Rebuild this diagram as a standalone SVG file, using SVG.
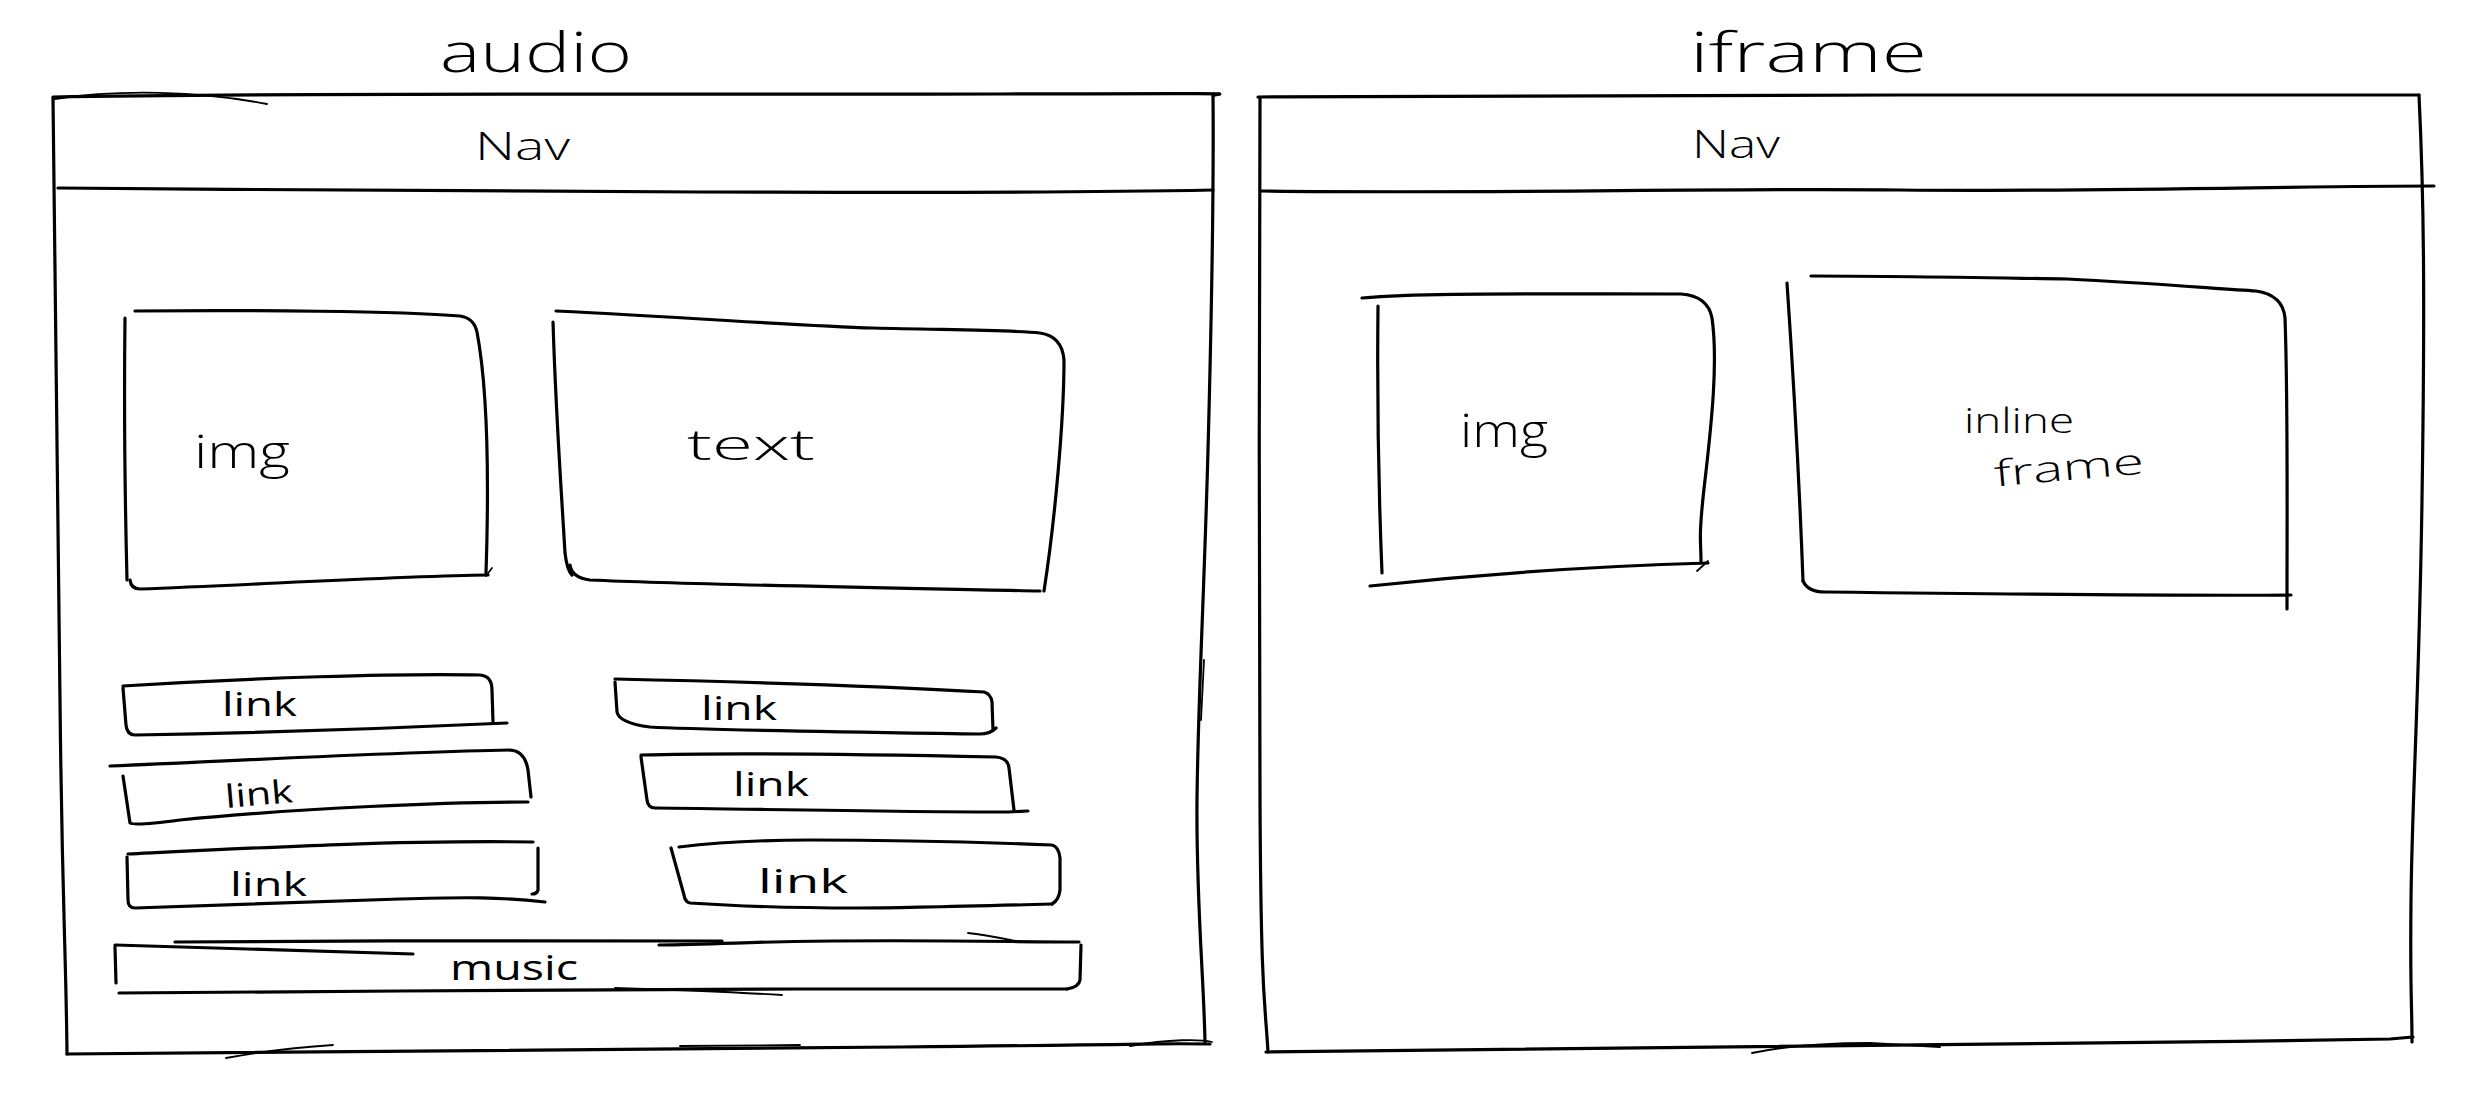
<svg xmlns="http://www.w3.org/2000/svg" width="2477" height="1112" viewBox="0 0 2477 1112">
<style>
  .s { fill: none; stroke: #000; stroke-width: 3.2; stroke-linecap: round; stroke-linejoin: round; }
  .t { fill: none; stroke: #000; stroke-width: 1.8; stroke-linecap: round; }
  .lbl { font-family: "Open Sans", "Liberation Sans", sans-serif; font-weight: 300; fill: #000; }
  .sm { font-weight: 400; }
</style>
<rect width="2477" height="1112" fill="#fff"/>

<g id="audio-frame">
  <text class="lbl" x="440" y="72" font-size="56" textLength="192" lengthAdjust="spacingAndGlyphs">audio</text>
  <path class="s" d="M53,97 C300,92 700,95 1000,94 S1200,94 1216,95"/>
  <path class="t" d="M55,99 C120,89 200,91 267,104"/>
  <path class="s" d="M53,98 C54,300 58,500 60,700 S66,950 67,1054"/>
  <path class="s" d="M1213,94 C1214,200 1212,300 1208,450 S1198,700 1197,800 S1204,980 1205,1043"/>
  <path class="t" d="M1204,660 L1201,720"/>
  <path class="s" d="M67,1054 C300,1052 600,1050 900,1047 S1150,1043 1210,1044"/>
  <path class="t" d="M226,1058 C260,1052 300,1047 333,1045"/>
  <path class="t" d="M680,1046 L800,1045"/>
  <path class="t" d="M1130,1046 C1170,1039 1200,1039 1212,1042"/>
  <path class="s" d="M58,188 C300,190 600,192 700,192 S1000,194 1213,190"/>
  <text class="lbl" x="475" y="160" font-size="39" textLength="95" lengthAdjust="spacingAndGlyphs">Nav</text>
</g>

<g id="audio-img">
  <path class="s" d="M135,311 C250,310 400,311 460,316 Q474,318 477,332 C486,380 490,450 486,573"/>
  <path class="t" d="M492,568 L486,576"/>
  <path class="s" d="M488,575 C400,576 250,585 140,589 Q131,589 130,580"/>
  <path class="s" d="M125,318 C124,400 125,500 127,580"/>
  <text class="lbl" x="194" y="468" font-size="46" textLength="96" lengthAdjust="spacingAndGlyphs">img</text>
</g>

<g id="audio-text">
  <path class="s" d="M556,311 C700,318 800,326 873,328 C950,330 1010,330 1040,333 Q1062,336 1064,360 C1064,420 1055,520 1044,591"/>
  <path class="s" d="M1040,591 C900,588 700,585 590,580 Q572,578 570,565"/>
  <path class="s" d="M553,322 C556,420 562,500 565,553 Q567,570 572,575"/>
  <text class="lbl" x="687" y="460" font-size="42" textLength="128" lengthAdjust="spacingAndGlyphs">text</text>
</g>

<g id="link-1">
  <path class="s" d="M123,686 C250,678 400,673 480,675 Q492,676 492,690 L493,722"/>
  <path class="s" d="M507,723 C400,728 250,733 135,735 Q127,735 126,725 L123,688"/>
  <text class="lbl sm" x="222" y="716" font-size="32" textLength="75" lengthAdjust="spacingAndGlyphs">link</text>
</g>

<g id="link-2">
  <path class="s" d="M110,766 C250,760 400,752 510,750 Q525,751 528,770 L531,797"/>
  <path class="s" d="M528,802 C450,802 300,808 180,820 Q135,826 130,823 L123,776"/>
  <text class="lbl sm" x="225" y="805" font-size="32" textLength="68" lengthAdjust="spacingAndGlyphs" transform="rotate(-5 259 795)">link</text>
</g>

<g id="link-3">
  <path class="s" d="M128,854 C250,848 400,840 533,842"/>
  <path class="s" d="M538,848 L538,890 Q537,894 532,894"/>
  <path class="s" d="M545,902 C500,897 467,897 400,899 C300,902 200,906 135,908 Q128,908 128,900 L127,857"/>
  <text class="lbl sm" x="230" y="896" font-size="32" textLength="77" lengthAdjust="spacingAndGlyphs">link</text>
</g>

<g id="link-4">
  <path class="s" d="M615,679 C750,682 880,686 984,692 Q991,694 992,702 L993,730"/>
  <path class="s" d="M996,728 Q990,734 980,734 C850,732 700,730 650,727 Q619,723 617,712 L615,682"/>
  <text class="lbl sm" x="701" y="720" font-size="32" textLength="76" lengthAdjust="spacingAndGlyphs">link</text>
</g>

<g id="link-5">
  <path class="s" d="M641,755 C750,752 900,755 996,757 Q1008,758 1009,768 L1014,810"/>
  <path class="s" d="M1028,811 L1008,812 C900,812 750,809 655,808 Q648,808 647,800 L641,757"/>
  <text class="lbl sm" x="733" y="796" font-size="32" textLength="76" lengthAdjust="spacingAndGlyphs">link</text>
</g>

<g id="link-6">
  <path class="s" d="M679,847 C720,842 760,840 810,840 C900,840 1000,843 1052,845 Q1059,847 1060,858 L1060,890 Q1059,900 1052,904"/>
  <path class="s" d="M1052,904 C980,906 900,908 857,908 C780,908 720,905 690,903 Q685,902 684,895 L671,848"/>
  <text class="lbl sm" x="758" y="893" font-size="32" textLength="90" lengthAdjust="spacingAndGlyphs">link</text>
</g>

<g id="music">
  <path class="s" d="M115,945 C200,948 300,951 413,954"/>
  <path class="s" d="M175,942 C350,940 600,941 722,941"/>
  <path class="s" d="M659,945 C720,944 780,941 833,941 C950,940 1020,942 1079,942"/>
  <path class="t" d="M968,933 C985,935 1000,938 1016,941"/>
  <path class="s" d="M1081,945 L1080,980 Q1079,987 1067,989"/>
  <path class="s" d="M1067,989 C850,988 600,990 400,991 C300,992 200,993 119,993"/>
  <path class="t" d="M615,988 C680,990 730,992 782,995"/>
  <path class="s" d="M115,947 L116,983"/>
  <text class="lbl sm" x="450" y="980" font-size="34" textLength="128" lengthAdjust="spacingAndGlyphs">music</text>
</g>

<g id="iframe-frame">
  <text class="lbl" x="1690" y="72" font-size="56" textLength="237" lengthAdjust="spacingAndGlyphs">iframe</text>
  <path class="s" d="M1258,97 C1500,97 1700,95 1900,95 S2300,94 2419,95"/>
  <path class="s" d="M1260,98 C1259,300 1259,600 1260,800 S1265,1000 1268,1052"/>
  <path class="s" d="M2419,95 C2424,200 2425,300 2422,500 S2412,800 2411,900 S2412,1000 2412,1042"/>
  <path class="s" d="M1266,1052 C1600,1050 2000,1045 2390,1039 L2413,1037"/>
  <path class="t" d="M1752,1053 C1790,1045 1830,1043 1870,1043 L1940,1047"/>
  <path class="s" d="M1261,191 C1500,194 1700,188 1900,190 S2300,186 2434,186"/>
  <text class="lbl" x="1692" y="158" font-size="38" textLength="88" lengthAdjust="spacingAndGlyphs">Nav</text>
</g>

<g id="iframe-img">
  <path class="s" d="M1362,298 C1420,293 1500,294 1681,294 Q1708,296 1712,318 C1718,360 1712,420 1705,480 S1701,540 1701,561"/>
  <path class="t" d="M1708,561 L1697,571"/>
  <path class="s" d="M1708,563 C1600,566 1500,572 1370,586"/>
  <path class="s" d="M1378,306 C1377,400 1379,500 1382,573"/>
  <text class="lbl" x="1460" y="447" font-size="46" textLength="88" lengthAdjust="spacingAndGlyphs">img</text>
</g>

<g id="inline-frame">
  <path class="s" d="M1811,276 C1900,276 2000,278 2067,279 C2150,283 2220,289 2256,291 Q2283,295 2285,318 C2288,400 2287,500 2287,609"/>
  <path class="s" d="M1803,581 Q1808,592 1825,592 C2000,594 2200,596 2291,595"/>
  <path class="s" d="M1787,283 C1795,400 1800,500 1803,581"/>
  <text class="lbl" x="1964" y="433" font-size="34" textLength="110" lengthAdjust="spacingAndGlyphs">inline</text>
  <text class="lbl" x="1994" y="480" font-size="36" textLength="150" lengthAdjust="spacingAndGlyphs" transform="rotate(-5 2069 470)">frame</text>
</g>

<g id="connectors"></g>
</svg>
